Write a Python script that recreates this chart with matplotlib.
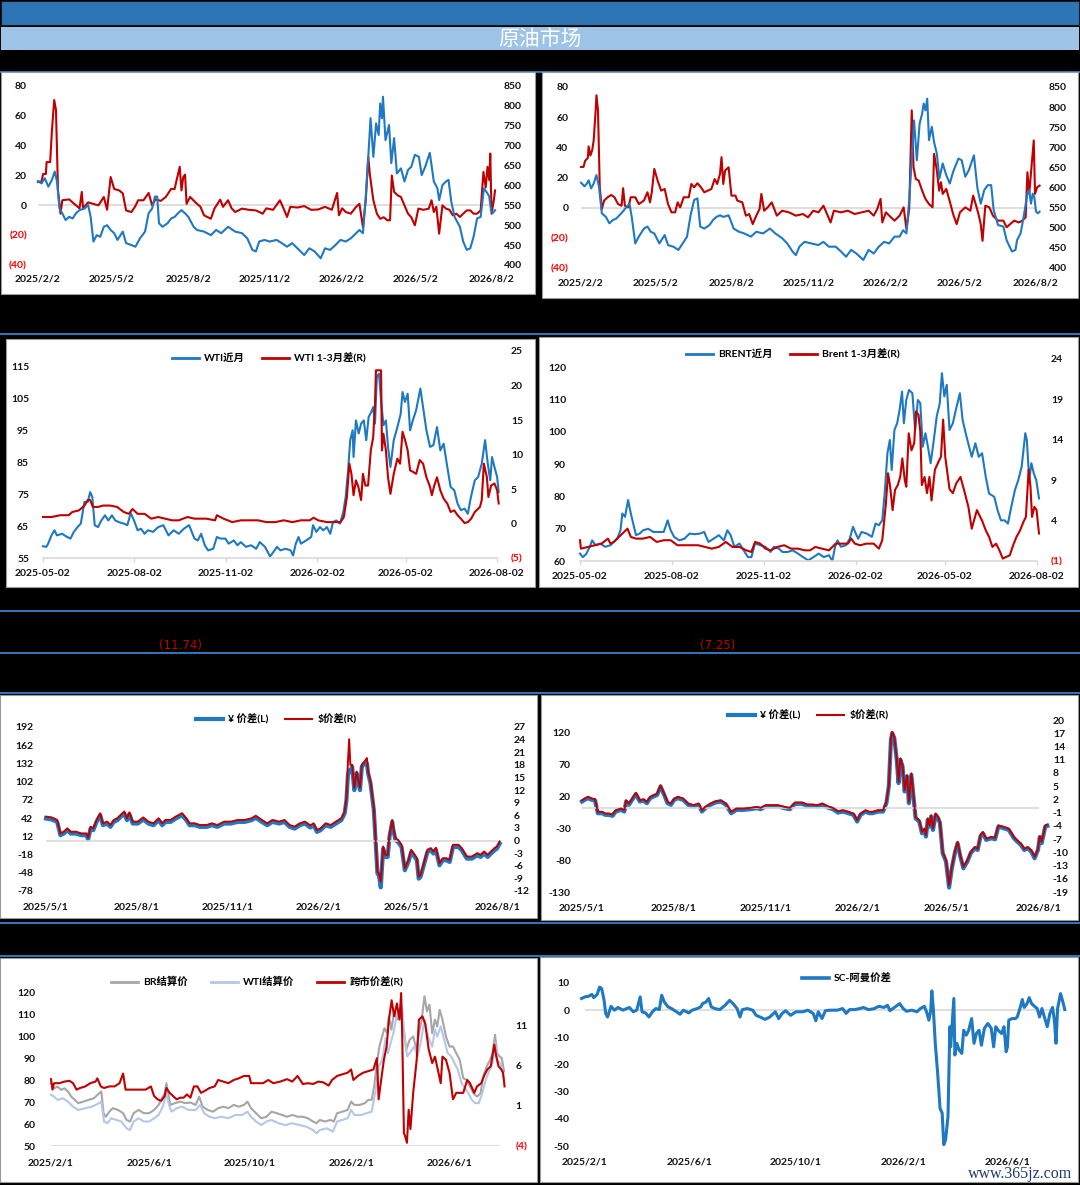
import numpy as np
import pandas as pd
import matplotlib
matplotlib.use('Agg')
import matplotlib.pyplot as plt
from matplotlib.patches import Rectangle
from matplotlib.lines import Line2D

plt.rcParams['font.family'] = ['Lato', 'Noto Sans CJK SC', 'DejaVu Sans']
plt.rcParams['font.weight'] = 'bold'
plt.rcParams['axes.unicode_minus'] = False

# ---------------- data (x = months after each panel's start date) ----------------
title = '原油市场'
notes = ['(11.74)', '(7.25)']

# panel 1 : spread (L, red) and SC price (R, blue)
p1_start = '2025-02-02'
p1_ticks = ['2025-02-02', '2025-05-02', '2025-08-02', '2025-11-02', '2026-02-02', '2026-05-02', '2026-08-02']
p1_red_m = [0.00,0.14,0.20,0.31,0.34,0.48,0.55,0.64,0.71,0.79,0.89,0.96,1.23,1.50,1.64,1.73,1.78,1.98,2.39,2.60,
            2.73,2.87,3.01,3.21,3.35,3.48,3.69,3.83,3.96,4.17,4.37,4.51,4.64,4.85,5.05,5.26,5.40,5.46,5.60,5.67,
            5.74,5.81,5.87,6.01,6.22,6.42,6.56,6.83,6.97,7.20,7.31,7.51,7.65,7.79,8.06,8.33,8.61,8.88,9.02,9.29,
            9.56,9.70,9.84,9.97,10.25,10.52,10.79,11.07,11.34,11.61,11.82,11.89,12.02,12.16,12.36,12.57,12.70,12.84,12.95,13.05,
            13.11,13.25,13.39,13.52,13.66,13.80,13.91,13.98,14.07,14.21,14.34,14.48,14.62,14.75,14.89,15.03,15.23,15.44,15.55,15.64,
            15.74,15.85,15.98,16.12,16.26,16.39,16.53,16.67,16.80,16.94,17.08,17.21,17.35,17.49,17.60,17.69,17.76,17.83,17.87,17.92,
            18.01,18.06]
p1_red_v = [15.7,16,21,21,29,29,50,70.6,64,10,-5.6,3.4,4,0,-2,9,-2,2,0,5.6,
            -3,19,11,10,8,-3.4,-4.5,-1,3.4,3.4,8.3,0,4,3,5.6,11,11,15.7,25.8,10,
            19,20.6,1,5.6,2,-1,-6.7,-9,-2.2,3.8,-1,3.4,-2,-4.5,-2.2,-3,-3.4,-5.6,-2,-3,
            3.4,-2,-7.8,-1,-1.5,-0.5,-3,-2.8,-1,-3,8.3,-6.7,-2,-4.5,-5.6,-1,1,-14.6,3.4,32.5,
            21,3.4,-5.6,-9,-8,-10,-10,20,9,6.7,5.6,0,-5.6,-8,-13.4,-2.2,-3,-2.2,3.4,-4.5,
            -1,-19,0,-2.2,-3,-6.7,-5.6,-7.8,-5.6,-3.4,-3.4,-5.6,-5.6,-3.4,22.4,12,25.8,17,34.7,-5.6,
            3.4,10]
p1_blue_m = [0.00,0.14,0.27,0.41,0.55,0.66,0.75,0.85,0.96,1.09,1.23,1.37,1.50,1.64,1.84,1.98,2.08,2.19,2.32,2.46,
             2.60,2.73,2.87,3.01,3.14,3.35,3.48,3.69,3.85,4.03,4.23,4.37,4.51,4.62,4.71,4.78,4.92,5.12,5.26,5.40,
             5.53,5.67,5.81,5.94,6.15,6.28,6.56,6.83,7.04,7.24,7.51,7.79,8.06,8.27,8.47,8.61,8.74,8.95,9.15,9.43,
             9.63,9.84,10.04,10.25,10.52,10.72,10.93,11.17,11.34,11.54,11.75,11.95,12.16,12.36,12.57,12.70,12.84,12.95,13.05,13.14,
             13.25,13.36,13.46,13.52,13.59,13.63,13.73,13.87,13.96,14.07,14.18,14.34,14.48,14.62,14.75,14.89,15.05,15.16,15.30,15.48,
             15.64,15.78,15.85,15.98,16.12,16.22,16.33,16.46,16.67,16.80,16.94,17.08,17.21,17.35,17.49,17.62,17.76,17.83,17.90,17.96,
             18.06]
p1_blue_v = [611,605,618,597,614,635,610,542,530,513,521,517,530,538,542,551,521,459,475,471,
             496,500,488,480,463,484,455,450,446,467,484,530,542,572,572,505,496,505,517,521,
             530,538,530,521,496,488,484,475,488,480,496,484,480,467,438,434,459,463,459,463,
             455,446,455,442,425,442,434,417,442,438,450,463,459,467,480,488,480,572,672,769,
             672,756,727,806,769,823,714,752,656,719,630,643,610,639,647,677,672,626,647,682,
             610,593,563,601,610,614,559,521,496,459,438,442,471,517,521,593,580,572,538,530,
             538]

# panel 2 : spread (L, red) and price (R, blue)
p2_start = '2025-02-02'
p2_ticks = p1_ticks
p2_red_m = [0,0.10,0.16,0.27,0.30,0.37,0.44,0.50,0.57,0.61,0.67,0.74,0.82,0.91,1.05,1.19,1.32,1.46,1.60,1.66,
            1.73,1.87,1.96,2.14,2.28,2.48,2.62,2.72,2.79,2.89,3.02,3.16,3.30,3.43,3.57,3.71,3.81,3.91,4.05,4.25,
            4.35,4.46,4.59,4.73,4.86,5.00,5.14,5.27,5.37,5.48,5.54,5.61,5.68,5.82,5.93,6.09,6.16,6.36,6.50,6.63,
            6.77,6.91,7.04,7.11,7.22,7.36,7.52,7.72,7.93,8.20,8.47,8.75,8.95,9.16,9.36,9.56,9.70,9.84,9.97,10.25,
            10.52,10.79,11.06,11.34,11.54,11.68,11.81,11.88,12.02,12.22,12.36,12.56,12.72,12.83,12.94,13.04,13.11,13.20,13.31,13.45,
            13.58,13.72,13.86,13.92,14.03,14.12,14.19,14.26,14.40,14.53,14.67,14.81,14.94,15.15,15.35,15.46,15.56,15.67,15.76,15.83,
            15.94,16.10,16.24,16.44,16.65,16.78,16.92,17.08,17.26,17.40,17.53,17.60,17.67,17.77,17.85,17.90,17.98,18.08]
p2_red_v = [27,27,31,33,40.6,34.6,38,44.6,62.3,74.5,64.5,13.5,-1,4.7,6.9,8.4,6.9,2.4,1.3,12.9,
            1.3,0.2,6.9,6.9,2.4,4.7,10.2,3.5,10.2,25.7,18,11.3,12.4,2.4,-3.1,-3.1,3.5,0.2,6.9,6.9,
            15.7,13.5,16.2,13.5,10.2,11.3,12.4,19,15.7,22.4,33.5,15.7,24.6,26.8,8,8,4.7,3.5,-5.3,-4.2,
            -10.9,-5.3,-0.9,9.1,-2,0.2,3.5,-5.3,-2,-3.1,-5.3,-4.2,-6.4,-2,-3.1,1.3,-4.2,-9.8,-2,-3.1,
            -2,-4.2,-3.1,-2,-5.3,-0.9,5.8,-9.8,-3.1,-6.4,-8.6,-5.3,0.2,-14.2,-0.9,64.5,26.8,19,18,11.3,
            5.8,2.4,0.2,35.7,24.6,11.3,16.9,9.1,12.4,4.7,-4.2,-10.9,-3.1,0.2,-2,8,2.4,-4.2,-10.9,-22,
            1.3,0.2,-5.3,-8.6,-8.6,-13,-10.9,-8.6,-9.8,-8.6,-6.4,23.5,9.1,29,44.6,9.1,13.5,14.6]
p2_blue_m = [0,0.14,0.23,0.30,0.40,0.50,0.61,0.71,0.82,0.98,1.12,1.25,1.39,1.59,1.80,1.91,2.00,2.14,2.28,2.48,
             2.62,2.75,2.89,3.09,3.30,3.43,3.64,3.84,4.05,4.18,4.32,4.46,4.59,4.70,4.86,5.07,5.20,5.34,5.48,5.61,
             5.82,6.02,6.23,6.43,6.70,6.91,7.18,7.45,7.66,7.93,8.13,8.34,8.47,8.61,8.81,9.09,9.36,9.56,9.77,10.04,
             10.25,10.45,10.65,10.86,11.13,11.34,11.54,11.74,11.95,12.15,12.36,12.56,12.70,12.83,12.94,13.04,13.13,13.24,13.35,13.45,
             13.51,13.58,13.65,13.72,13.83,13.92,14.03,14.13,14.26,14.40,14.54,14.67,14.88,15.01,15.15,15.29,15.49,15.63,15.76,15.90,
             16.04,16.17,16.27,16.44,16.65,16.78,16.99,17.13,17.19,17.33,17.44,17.60,17.67,17.74,17.81,17.87,17.94,18.01,18.08]
p2_blue_v = [612,603,610,618,598,610,631,602,536,527,511,519,523,536,552,560,527,461,478,498,
             503,490,486,461,482,457,453,445,465,478,531,569,573,503,498,507,519,527,531,527,
             531,498,490,486,478,490,486,498,486,474,461,441,432,453,465,461,457,465,453,453,
             441,428,445,436,420,445,436,453,465,461,478,478,494,486,569,668,767,668,759,784,
             809,792,821,718,751,713,684,622,660,631,610,639,672,668,627,643,680,598,560,594,
             606,606,544,507,503,469,441,445,469,486,523,585,594,560,585,577,540,536,540]

# panel 3 : WTI
p3_start = '2025-05-02'
p3_ticks = ['2025-05-02', '2025-08-02', '2025-11-02', '2026-02-02', '2026-05-02', '2026-08-02']
p3_names = ['WTI近月', 'WTI 1-3月差(R)']
p3_blue_m = [0,0.11,0.17,0.28,0.38,0.46,0.63,0.80,0.91,1.02,1.14,1.25,1.37,1.48,1.56,1.63,1.71,1.82,1.93,2.05,
             2.16,2.28,2.39,2.50,2.67,2.79,2.90,3.01,3.13,3.24,3.36,3.47,3.64,3.81,3.98,4.15,4.32,4.49,4.66,4.83,
             5.01,5.12,5.23,5.35,5.46,5.63,5.75,5.86,6.03,6.14,6.31,6.43,6.54,6.71,6.88,7.05,7.17,7.34,7.51,7.62,
             7.74,7.85,8.02,8.19,8.27,8.36,8.45,8.53,8.70,8.87,8.93,9.04,9.16,9.27,9.39,9.50,9.59,9.70,9.82,9.93,
             10.01,10.09,10.16,10.24,10.27,10.35,10.44,10.52,10.61,10.69,10.77,10.86,10.92,10.98,11.04,11.11,11.18,11.26,11.34,11.41,
             11.49,11.60,11.72,11.83,11.89,11.97,12.06,12.14,12.23,12.34,12.48,12.57,12.68,12.80,12.91,13.03,13.14,13.25,13.37,13.48,
             13.60,13.71,13.82,13.94,14.05,14.14,14.28,14.39,14.51,14.62,14.71,14.79,14.85,14.93,15.02,15.07]
p3_blue_v = [58.7,58.5,59.5,62.1,63.7,62.1,62.6,61.6,61.1,63.2,64.7,65.8,72.6,72.6,75.7,74.2,65.3,64.7,66.8,68.4,
             66.8,68.4,66.8,66.3,65.8,65.3,69.1,66.8,63.7,64.2,62.6,63.7,63.2,64.7,65.3,62.1,63.7,62.6,64.2,65.3,
             61.1,60.5,62.6,59,57.4,57.9,61.6,61.1,61.1,59.5,60.5,59,60,58.5,59,57.9,60,58.5,55.5,56.9,
             58.5,57.4,57.9,57.4,55.8,59.5,61.6,59.5,60.5,61.6,65.3,63.2,64.7,63.7,64.7,62.6,66.3,66.8,65.8,69.4,
             74.2,82.5,92,95.1,86.7,98.2,94.1,97.2,98.2,92,99.3,100.9,102.4,97.2,111.9,112.9,104.5,96.7,98.2,89.9,
             83.6,92,96.1,100.3,107.1,104,106.6,95.1,98.2,101.4,108.2,102.4,95.1,89.9,90.4,96.1,88.8,90.9,83.6,77.3,
             76.3,72.1,70,70.5,68.9,73.6,79.4,80.4,84.6,92,84.6,79.4,86.7,83.6,80.4,75.7]
p3_red_m = [0,0.28,0.57,0.85,0.97,1.19,1.37,1.48,1.56,1.65,1.82,1.99,2.22,2.45,2.67,2.84,2.96,3.13,3.36,3.58,
            3.81,4.04,4.27,4.49,4.78,5.01,5.40,5.69,5.75,5.97,6.26,6.54,6.83,7.11,7.39,7.68,7.96,8.25,8.53,8.82,
            8.95,9.10,9.39,9.67,9.84,9.95,10.05,10.13,10.20,10.27,10.35,10.43,10.52,10.58,10.66,10.75,10.84,10.92,10.98,11.01,
            11.18,11.21,11.26,11.34,11.41,11.49,11.60,11.72,11.81,11.89,11.98,12.06,12.14,12.23,12.34,12.46,12.57,12.68,12.80,12.86,
            12.94,13.03,13.14,13.25,13.37,13.48,13.60,13.71,13.82,13.94,14.05,14.16,14.28,14.45,14.51,14.58,14.68,14.73,14.82,14.93,
            15.02,15.07]
p3_red_v = [0.94,0.94,1.2,1.2,1.67,1.9,2.6,3.4,3.4,2.4,2.4,2.6,2.6,2.4,1.67,1.4,2.1,1.4,1.4,0.7,
            0.94,0.7,0.46,0.46,0.94,0.7,0.7,0.46,1.2,0.7,0.2,0.46,0.46,0.46,0.2,0.2,0.46,0.2,0.46,0.46,
            0.84,0.46,0.2,0.2,0.2,0.94,3.84,8.67,7.2,4.1,6.25,5.3,3.4,7.2,5.5,5.5,10.6,12.5,17.4,22.2,
            22.2,10.6,13,10.6,6.7,4.3,7.2,9.4,8.67,13.3,12,10.6,7.7,7.5,7.2,9.2,8.67,6.7,5.3,4.1,
            5.5,6.7,4.8,3.6,2.9,1.67,1.9,1.2,0.7,0.07,0.2,0.7,1.67,2.4,3.4,8.67,6.7,3.84,5.5,5.8,
            4.8,2.9]

# panel 4 : Brent
p4_start = '2025-05-02'
p4_ticks = p3_ticks
p4_names = ['BRENT近月', 'Brent 1-3月差(R)']
p4_blue_m = [0,0.09,0.20,0.32,0.40,0.51,0.66,0.83,1.00,1.11,1.22,1.33,1.39,1.48,1.58,1.67,1.75,1.84,1.96,2.07,
             2.24,2.41,2.58,2.75,2.88,2.98,3.09,3.26,3.43,3.60,3.77,3.94,4.08,4.22,4.39,4.56,4.73,4.84,4.95,5.07,
             5.24,5.41,5.52,5.63,5.75,5.92,6.09,6.26,6.37,6.54,6.65,6.82,6.99,7.16,7.33,7.50,7.67,7.84,8.01,8.18,
             8.29,8.38,8.46,8.57,8.74,8.86,8.97,9.06,9.14,9.25,9.42,9.59,9.71,9.82,9.93,10.01,10.10,10.18,10.24,10.33,
             10.42,10.50,10.58,10.64,10.72,10.81,10.92,11.01,11.10,11.18,11.26,11.35,11.44,11.52,11.61,11.72,11.82,11.89,11.97,12.05,
             12.14,12.25,12.36,12.48,12.57,12.70,12.87,12.99,13.10,13.21,13.33,13.44,13.61,13.72,13.83,13.95,14.06,14.17,14.29,14.40,
             14.51,14.63,14.68,14.76,14.83,14.91,14.99,15.08]
p4_blue_v = [62.3,61.2,62.1,64.4,66.4,64.9,65.4,64.4,64.9,65.9,66.9,69.5,74.7,73.7,78.9,74.7,71.6,68,68.5,69.5,
             70,69,69,69,72.6,69.5,67.5,66.4,66.9,68.5,68.3,68.5,69,65.9,66.9,68,66.4,69.5,68,64.4,
             65.4,62.8,61.2,61.2,65.4,64.9,64.4,62.8,64.4,63.8,62.8,62.8,63.3,62.3,61.2,60.2,61.2,62.3,61.2,61.8,
             60,64.4,66.4,64.4,64.9,66.9,70.6,68.5,66.9,69,68.5,67.5,71.6,71.1,72.6,80.9,93.4,97.5,88.2,100.6,
             102.7,106.8,112.5,102.7,109.9,113,112,100.6,109.9,108.9,95.4,99.6,94.9,90.3,96.5,104.8,108.9,118.2,111,114.6,
             100.6,102.7,107.3,112,103.7,98.5,92.3,96.5,92.3,93.4,86.1,80.9,79.9,75.7,72.6,72.6,71.6,76.8,82,85.1,
             89.2,99.6,97.5,85.1,90.3,87.1,85.1,79.4]
p4_red_m = [0,0.03,0.26,0.49,0.71,0.92,1.00,1.11,1.28,1.45,1.56,1.67,1.84,2.07,2.30,2.52,2.75,2.98,3.20,3.43,
            3.65,3.88,4.11,4.33,4.56,4.79,5.01,5.24,5.46,5.63,5.75,5.92,6.09,6.26,6.48,6.71,6.93,7.16,7.39,7.56,
            7.73,7.95,8.18,8.40,8.63,8.80,8.91,9.03,9.20,9.42,9.65,9.82,9.93,10.05,10.12,10.19,10.27,10.35,10.44,10.52,
            10.59,10.67,10.72,10.80,10.89,10.98,11.04,11.12,11.18,11.23,11.32,11.40,11.48,11.55,11.66,11.78,11.86,11.93,12.00,12.14,
            12.25,12.36,12.50,12.61,12.76,12.87,13.04,13.21,13.33,13.44,13.55,13.67,13.78,13.89,14.00,14.12,14.23,14.34,14.46,14.57,
            14.65,14.74,14.80,14.85,14.93,15.00,15.08]
p4_red_v = [1.57,0.53,0.74,0.95,1.15,1.77,1.15,1.36,1.98,2.6,3,1.98,1.77,1.77,1.98,1.36,1.57,1.57,0.95,0.95,
            0.95,0.95,0.74,0.53,0.74,1.36,0.74,0.74,0.32,0.12,1.36,1.15,0.53,0.32,0.74,0.95,0.53,0.53,0.32,0.32,
            0.74,0.53,0.32,1.15,1.15,1.15,1.77,1.15,0.95,1.15,1.15,0.53,1.57,6.1,9.85,8.2,5.3,7.8,8.4,9.4,
            11.7,9,8.2,14.8,12.7,13.6,17.5,17.1,15,8.4,9.4,7.4,9.4,6.5,10.3,11.3,11.9,16.5,11.9,7.9,
            7.4,8.6,9.4,7.9,5.7,3,5.3,4,2.8,1.98,0.74,1.15,0.32,-0.7,-0.5,-0.3,0.95,1.98,2.8,3.85,
            4.46,10.3,8.2,4.46,5.7,5.3,2.4]

# panels 5 and 6 : RMB spread (L) vs USD spread (R)
p56_names = ['¥ 价差(L)', '$价差(R)']
p5_start = '2025-05-01'
p5_ticks = ['2025-05-01', '2025-08-01', '2025-11-01', '2026-02-01', '2026-05-01', '2026-08-01']
p5_m = [0,0.19,0.37,0.48,0.59,0.71,0.82,1.00,1.17,1.34,1.40,1.48,1.57,1.68,1.80,1.89,2.03,2.14,2.25,2.37,
        2.48,2.60,2.69,2.77,2.88,3.05,3.23,3.40,3.57,3.74,3.86,3.97,4.14,4.31,4.52,4.66,4.77,4.94,5.11,5.34,
        5.51,5.69,5.92,6.14,6.37,6.60,6.83,6.97,7.17,7.35,7.52,7.75,7.92,8.09,8.26,8.43,8.60,8.78,8.89,9.00,
        9.12,9.29,9.46,9.63,9.81,9.92,9.98,10.03,10.07,10.11,10.17,10.24,10.32,10.38,10.43,10.49,10.58,10.66,10.70,10.78,
        10.89,11.01,11.06,11.12,11.20,11.27,11.35,11.41,11.50,11.54,11.61,11.69,11.81,11.92,12.04,12.13,12.21,12.32,12.38,12.44,
        12.55,12.67,12.78,12.87,12.95,13.07,13.18,13.30,13.41,13.52,13.70,13.81,13.98,14.15,14.32,14.44,14.55,14.67,14.78,14.90,
        14.98,15.07]
p5_rmb = [41.3,39.7,35.8,13.8,16.6,22.1,16.6,16.6,13.8,13.8,6.7,24.8,22.1,35.8,46.8,30.3,33.1,27.6,35.8,38.6,
          44.1,49.6,38.6,48.5,33.1,33.1,39.7,33.1,30.3,38.6,30.3,35.8,35.8,41.3,46.8,38.6,30.3,30.3,27.6,27.6,
          30.3,27.6,33.1,33.1,35.8,35.8,38.6,42.4,35.8,30.3,35.8,33.1,35.8,27.6,24.8,30.3,33.1,26.5,30.3,19.3,
          22.1,30.3,27.6,33.1,38.6,49.6,71.6,113,121,119,126.6,88.1,115.6,99.1,88.1,126.6,132.1,132,115.6,99.1,
          55.1,-49.4,-52.2,-72,-8.2,-21.9,-21.9,11.1,35.8,22.1,5.6,2.8,-5.4,-43.9,-30.2,-13.7,-19.2,-27.4,-57.7,-54.9,
          -35.7,-13.7,-10.9,-16.4,-9.8,-35.7,-27.4,-27.4,-30.2,-5.4,-5.4,-10.9,-24.7,-24.7,-19.2,-21.9,-16.4,-21.9,-16.4,-10.9,
          -8.2,0.0]
p5_usd = [5.7,5.5,4.9,1.7,2.1,2.9,2.1,2.1,1.7,1.7,0.7,3.3,2.9,4.9,6.5,4.1,4.5,3.7,4.9,5.3,
          6.1,6.9,5.3,6.7,4.5,4.5,5.5,4.5,4.1,5.3,4.1,4.9,4.9,5.7,6.5,5.3,4.1,4.1,3.7,3.7,
          4.1,3.7,4.5,4.5,4.9,4.9,5.3,5.9,4.9,4.1,4.9,4.5,4.9,3.7,3.3,4.1,4.5,3.6,4.1,2.5,
          2.9,4.1,3.7,4.5,5.3,6.9,10.1,18.8,24.1,18.0,18.0,12.5,16.4,14.1,12.5,18.0,18.8,19.6,16.4,14.1,
          7.7,-7.4,-7.8,-9.8,-1.4,-3.4,-3.4,1.3,4.9,2.9,0.5,0.2,-1.0,-6.6,-4.6,-2.2,-3.0,-4.2,-8.6,-8.2,
          -5.4,-2.2,-1.8,-2.6,-1.7,-5.4,-4.2,-4.2,-4.6,-1.0,-1.0,-1.8,-3.8,-3.8,-3.0,-3.4,-2.6,-3.4,-2.6,-1.8,
          -1.4,-0.2]

p6_start = '2025-05-01'
p6_ticks = p5_ticks
p6_m = [0,0.09,0.20,0.32,0.43,0.52,0.66,0.77,0.88,1.00,1.11,1.28,1.39,1.45,1.54,1.65,1.77,1.90,2.02,2.13,
        2.24,2.36,2.47,2.58,2.70,2.81,2.92,3.03,3.15,3.32,3.49,3.66,3.83,3.94,4.05,4.22,4.39,4.56,4.73,4.90,
        5.07,5.30,5.53,5.75,5.87,6.04,6.21,6.43,6.66,6.83,7.00,7.23,7.40,7.57,7.74,7.90,8.07,8.24,8.41,8.58,
        8.75,8.92,9.04,9.15,9.32,9.43,9.55,9.72,9.89,10.00,10.08,10.15,10.19,10.26,10.34,10.40,10.46,10.53,10.60,10.68,
        10.74,10.82,10.88,10.96,11.08,11.17,11.25,11.30,11.36,11.42,11.47,11.53,11.62,11.70,11.76,11.85,11.96,12.06,12.15,12.26,
        12.34,12.43,12.53,12.66,12.77,12.91,13.00,13.09,13.17,13.28,13.45,13.57,13.68,13.85,14.02,14.19,14.30,14.42,14.53,14.64,
        14.76,14.87,14.98,15.04,15.10,15.15,15.22,15.29]
p6_rmb = [12.0,14.7,17.3,14.7,13.6,-6.3,-6.3,-8.9,-8.9,-10.5,-3.7,-1.1,-3.7,12.0,6.8,14.7,23.6,12.0,13.6,9.4,
          17.3,20.0,22.5,35.6,22.5,9.4,6.8,14.7,17.3,14.7,6.8,4.2,6.8,-3.7,1.6,6.8,10.5,12.0,6.8,-6.3,
          -1.1,-1.1,0.0,1.6,0.0,4.2,4.2,4.2,1.6,0.0,8.4,8.4,5.2,5.2,4.2,6.8,2.6,0.0,-5.3,-3.7,
          -6.3,-8.9,-19.4,-8.9,-3.7,-6.3,-6.3,-3.7,-3.7,9.4,35.6,109.0,119.5,111.6,77.5,40.9,77.5,67.1,27.8,51.3,
          9.4,54.0,25.1,-14.2,-19.4,-37.8,-32.5,-43.0,-16.8,-27.3,-11.5,-32.5,-8.9,-14.2,-22.0,-69.2,-82.3,-123,-92.8,-66.6,
          -53.5,-74.4,-92.8,-82.3,-69.2,-61.3,-64.0,-43.0,-37.8,-48.2,-45.6,-47.2,-27.3,-29.9,-32.5,-45.6,-50.9,-56.1,-64.0,-61.3,
          -66.6,-77.1,-64.0,-44.0,-53.5,-43.0,-27.3,-26.2]
p6_usd = [1.8,2.2,2.6,2.2,2.05,-0.8,-0.8,-1.2,-1.2,-1.4,-0.45,-0.07,-0.45,1.8,1.07,2.2,3.5,1.8,2.05,1.45,
          2.6,3.0,3.3,5.2,3.3,1.45,1.07,2.2,2.6,2.2,1.07,0.7,1.07,-0.45,0.3,1.07,1.6,1.8,1.07,-0.8,
          -0.07,-0.07,0.08,0.3,0.08,0.7,0.7,0.7,0.3,0.08,1.3,1.3,0.84,0.84,0.7,1.07,0.46,0.08,-0.67,-0.45,
          -0.8,-1.2,-2.7,-1.2,-0.45,-0.8,-0.8,-0.45,-0.45,1.45,5.2,15.8,17.3,16.2,11.3,6.0,11.3,9.8,4.1,7.5,
          1.45,7.9,3.7,-2.0,-2.7,-5.4,-4.6,-6.1,-2.3,-3.9,-1.6,-4.6,-1.2,-2.0,-3.1,-9.9,-11.8,-17.5,-13.3,-9.5,
          -7.6,-10.7,-13.3,-11.8,-9.9,-8.8,-9.2,-6.1,-5.4,-6.9,-6.5,-6.7,-3.9,-4.2,-4.6,-6.5,-7.3,-8.0,-9.2,-8.8,
          -9.5,-11.0,-9.2,-6.3,-7.6,-6.1,-3.9,-3.7]

# panel 7 : settlement prices and cross-market spread
p7_start = '2025-02-01'
p7_ticks = ['2025-02-01', '2025-06-01', '2025-10-01', '2026-02-01', '2026-06-01']
p7_names = ['BR结算价', 'WTI结算价', '跨市价差(R)']
p7_br_m = [0,0.12,0.26,0.40,0.54,0.68,0.81,0.95,1.09,1.30,1.50,1.71,1.92,2.01,2.10,2.19,2.33,2.47,2.68,2.88,
           3.02,3.16,3.30,3.50,3.71,3.92,4.12,4.30,4.40,4.54,4.61,4.68,4.77,4.95,5.16,5.37,5.57,5.78,5.92,6.06,
           6.26,6.47,6.68,6.88,7.09,7.30,7.50,7.71,7.85,7.99,8.19,8.40,8.61,8.81,9.02,9.23,9.43,9.64,9.85,10.06,
           10.26,10.47,10.61,10.74,10.95,11.16,11.30,11.43,11.64,11.85,11.99,12.12,12.33,12.54,12.68,12.81,12.91,13.02,13.12,13.23,
           13.32,13.43,13.50,13.60,13.71,13.82,13.92,13.99,14.10,14.19,14.33,14.47,14.61,14.70,14.81,14.92,15.02,15.12,15.23,15.34,
           15.43,15.53,15.64,15.78,15.92,16.06,16.19,16.33,16.47,16.61,16.74,16.88,17.02,17.16,17.27,17.41,17.54,17.64,17.74,17.82,
           17.92,18.01,18.10]
p7_br_v = [78.7,76.4,77.2,75.7,76.4,74.9,72.6,71.1,69.6,70.3,71.1,71.8,74.1,74.9,65,63.4,65.7,67.3,66.5,65,
           61.9,61.2,65,66.5,65,65,66.5,68.8,71.1,74.1,78.7,74.1,68.8,69.6,70.3,69.6,69.9,68.8,72.6,68,
           66.5,65.7,67.3,68,67.3,68.8,68,68.8,70.3,67.3,65,62.7,63.4,65.7,65,64.2,63.4,64.2,63.4,63.4,
           62.7,61.2,60.4,61.9,61.2,61.9,61.2,65,65.7,66.5,70.3,68.8,68.8,69.6,71.1,71.1,77.2,87.9,95.5,100.1,
           103.9,101.6,109.3,103.2,111.6,107.8,110.8,113.9,103.2,94,98.6,100.1,94,101.6,107.8,118.5,111.6,114.6,101.6,107.8,
           104.7,112.3,107.8,100.1,95.5,95.5,92.5,89.4,81,80.3,77.2,74.1,72.6,74.1,81.8,86.4,89.4,92.5,100.9,92.5,
           91,90.2,84.1]
p7_wti_m = [0,0.12,0.26,0.47,0.68,0.88,1.09,1.37,1.64,1.92,2.01,2.12,2.26,2.40,2.61,2.81,3.02,3.16,3.30,3.50,
            3.71,3.92,4.12,4.30,4.47,4.61,4.72,4.81,5.02,5.23,5.50,5.78,5.96,6.12,6.33,6.54,6.81,7.09,7.37,7.64,
            7.85,7.99,8.19,8.40,8.61,8.81,9.09,9.37,9.64,9.92,10.19,10.47,10.61,10.74,11.02,11.26,11.43,11.64,11.85,11.99,
            12.12,12.40,12.61,12.81,12.95,13.09,13.23,13.37,13.46,13.57,13.68,13.78,13.85,13.96,14.03,14.12,14.23,14.37,14.51,14.65,
            14.79,14.92,15.06,15.23,15.34,15.43,15.57,15.71,15.85,15.99,16.12,16.26,16.40,16.54,16.68,16.81,16.95,17.09,17.23,17.37,
            17.50,17.64,17.74,17.85,17.96,18.10]
p7_wti_v = [73.4,72.6,71.1,71.8,70.3,68,66.5,67.3,68,69.6,70.3,61.2,60.4,62.7,61.9,61.2,58.1,57.3,61.2,62.7,
            61.2,61.2,62.7,64.2,68,74.1,68.8,65.7,67.3,68,66.5,66.5,68.8,65,63.4,62.7,63.4,62.7,64.2,64.2,
            65.7,63.4,61.2,59.6,61.2,61.9,60.4,59.6,60.4,59.6,58.9,57.3,55.8,57.3,58.1,56.6,61.2,61.9,62.7,66.5,
            64.2,64.2,65,65.7,74.1,86.4,89.4,99.4,92.5,97.1,101.6,107.8,110.8,112.3,113.1,100.1,91,93.2,95.5,91,
            98.6,107.8,100.1,95.5,103.2,100.1,104.7,98.6,92.5,91,87.9,84.8,78.7,76.4,74.1,71.1,69.6,69.6,74.1,80.3,
            84.1,87.9,97.1,88.7,87.9,80.3]
p7_spr_m = [0,0.06,0.12,0.33,0.54,0.74,0.88,1.02,1.16,1.37,1.57,1.78,1.85,1.99,2.12,2.33,2.54,2.74,2.88,2.98,
            3.23,3.50,3.78,3.99,4.12,4.26,4.40,4.54,4.61,4.74,4.88,5.02,5.16,5.30,5.43,5.57,5.71,5.85,5.99,6.12,
            6.33,6.54,6.68,6.88,7.09,7.30,7.50,7.71,7.92,7.99,8.19,8.47,8.68,8.88,9.16,9.43,9.64,9.85,10.06,10.26,
            10.47,10.68,10.88,11.09,11.23,11.43,11.64,11.85,11.99,12.08,12.26,12.47,12.68,12.88,13.02,13.09,13.19,13.30,13.41,13.50,
            13.61,13.71,13.82,13.92,13.99,14.03,14.10,14.15,14.22,14.29,14.36,14.47,14.61,14.70,14.84,14.95,15.09,15.23,15.34,15.48,
            15.57,15.64,15.78,15.92,16.06,16.19,16.33,16.47,16.63,16.74,16.91,17.02,17.19,17.30,17.43,17.57,17.71,17.79,17.88,17.99,
            18.06,18.12]
p7_spr_v = [4.3,3.0,3.8,3.8,4.0,4.1,3.8,3.0,3.2,3.4,3.8,4.0,4.4,3.4,3.2,3.4,3.4,3.8,5.0,3.0,
            3.0,3.0,3.0,3.4,2.2,1.8,1.6,2.2,3.2,2.6,2.2,1.8,2.0,2.0,2.4,2.0,3.4,3.4,2.6,2.8,
            3.2,3.4,4.2,4.0,3.8,4.2,4.4,4.7,4.7,3.8,3.8,3.8,4.2,3.8,4.0,4.3,4.0,4.7,3.7,3.8,
            3.7,4.0,3.9,3.5,4.2,4.7,4.9,5.1,5.5,4.2,4.7,5.1,5.3,5.5,6.9,1.8,4.2,6.7,8.4,11.7,
            14.1,12.1,13.7,11.7,15.0,10.0,-2.4,-2.8,-3.6,0.5,-1.9,2.6,6.7,11.7,12.1,11.2,8.0,6.3,7.1,5.1,
            3.8,7.1,6.7,5.1,1.8,2.6,2.6,2.6,4.2,3.8,2.6,3.4,3.8,4.7,5.5,5.9,8.6,7.1,5.9,5.5,
            5.1,3.4]

# panel 8 : SC - Oman spread
p8_start = '2025-02-01'
p8_ticks = p7_ticks
p8_name = 'SC-阿曼价差'
p8_m = [-0.13,0,0.13,0.26,0.33,0.46,0.55,0.63,0.72,0.78,0.85,0.98,1.11,1.24,1.43,1.67,1.82,1.95,2.08,2.15,
        2.28,2.41,2.54,2.67,2.80,2.89,2.99,3.13,3.26,3.45,3.58,3.71,3.91,4.04,4.23,4.36,4.43,4.56,4.66,4.76,
        4.89,5.08,5.28,5.45,5.58,5.73,5.84,5.93,6.12,6.32,6.45,6.64,6.78,6.97,7.17,7.30,7.43,7.56,7.75,7.95,
        8.21,8.40,8.60,8.70,8.79,8.93,9.06,9.25,9.51,9.71,9.84,9.97,10.16,10.36,10.49,10.68,10.88,11.07,11.27,11.40,
        11.49,11.66,11.86,11.99,12.12,12.31,12.51,12.64,12.79,12.87,12.96,13.03,13.07,13.13,13.20,13.29,13.38,13.46,13.52,13.59,
        13.68,13.75,13.78,13.84,13.90,13.94,14.01,14.10,14.20,14.27,14.37,14.46,14.57,14.66,14.75,14.85,14.94,15.05,15.18,15.31,
        15.40,15.48,15.57,15.70,15.79,15.87,15.92,15.97,16.09,16.22,16.29,16.39,16.48,16.55,16.65,16.74,16.83,16.94,17.04,17.13,
        17.22,17.33,17.42,17.52,17.62,17.69,17.75,17.81,17.92,18.01,18.08]
p8_v = [4.3,4.9,5.1,5.8,4.6,5.8,8.5,7.9,3.6,-1.2,-2.5,1.4,0,1.0,0,1.0,-0.6,0,4.9,-0.6,
        -1,-2.5,-0.6,0.6,0.2,5.5,3.0,1.2,0.6,-0.6,-1.5,0,-1,0,0.6,1.2,2.4,3.0,4.3,1.2,
        0.6,0.2,1.8,3.6,2.4,0.6,-2.5,0.2,0.6,0,-1.9,-2.7,-3.4,-2.5,-0.6,-3.1,-1.2,-0.2,-1.9,-0.6,
        -0.6,0,-1.2,-3.9,-0.6,-3.1,-0.2,0,0,0.6,-1.2,0.2,0.2,0.6,1.0,0.2,0.5,1.4,1.0,1.8,
        -0.2,1.0,2.4,0.6,-0.4,0,-0.6,0.6,1.4,-0.6,-3.7,0,7.1,0,-12.2,-23.2,-36.1,-37.9,-49.5,-47.7,
        -39.1,-6.1,-13.5,-4.9,4.3,-16.5,-12.2,-14.7,-15.9,-7.4,-9.2,-7.4,-3.1,-12.2,-8.6,-7.4,-12.9,-6.7,-4.9,-6.7,
        -13.5,-6.1,-7.4,-8.6,-6.1,-15.3,-13.5,-3.7,-3.1,-3.1,-2.5,0.6,3.9,1.0,2.2,4.6,2.4,1.4,0.6,-2.5,
        0.6,-3.1,-6.1,-1.2,1.0,-3.7,-12.2,0.6,6.1,3.0,0.2]

# ---------------- styling / layout ----------------
W, H = 1080, 1185
BLUE = '#1E78C2'
RED = '#C00000'
NEG = '#FF0000'
GRID = '#D9D9D9'
TXT = '#111111'
FS = 7.5
LW = 1.5

fig = plt.figure(figsize=(W / 100, H / 100), dpi=100)
fig.patch.set_facecolor('black')


def rect(x0, y0, x1, y1, color, edge=None, lw=0.0):
    fig.add_artist(Rectangle((x0 / W, 1 - y1 / H), (x1 - x0) / W, (y1 - y0) / H,
                             transform=fig.transFigure, facecolor=color,
                             edgecolor=edge or color, linewidth=lw, zorder=-5))


def when(start, months):
    return pd.Timestamp(start) + pd.to_timedelta(np.asarray(months) * 30.4375, unit='D')


def style(ax):
    ax.patch.set_visible(False)
    for s in ax.spines.values():
        s.set_visible(False)
    ax.tick_params(length=0, labelsize=FS, colors=TXT)


def make_ax(x0, x1, ytop, ybot):
    ax = fig.add_axes([x0 / W, 1 - ybot / H, (x1 - x0) / W, (ybot - ytop) / H])
    style(ax)
    return ax


def twin(ax):
    t = ax.twinx()
    style(t)
    return t


def set_y(ax, lim, ticks, pad, paren=False):
    ax.set_ylim(*lim)
    labs = ['(%g)' % -t if (paren and t < 0) else '%g' % t for t in ticks]
    ax.set_yticks(ticks, labs)
    ax.tick_params(axis='y', pad=pad)
    if paren:
        for t, lab in zip(ticks, ax.get_yticklabels()):
            if t < 0:
                lab.set_color(NEG)


def set_x(ax, start, end, ticks, pad, dash=False, tick_marks=False):
    ax.set_xlim(pd.Timestamp(start), pd.Timestamp(end))
    tk = pd.to_datetime(ticks)
    if dash:
        labs = [d.strftime('%Y-%m-%d') for d in tk]
    else:
        labs = ['%d/%d/%d' % (d.year, d.month, d.day) for d in tk]
    ax.set_xticks(tk, labs)
    ax.tick_params(axis='x', pad=pad)
    if tick_marks:
        ax.spines['bottom'].set_visible(True)
        ax.spines['bottom'].set_color(GRID)
        ax.spines['bottom'].set_linewidth(1.2)
        ax.tick_params(axis='x', length=3, width=1, color=GRID, direction='out')


def legend(items, cx, cy, hl=2.6, cs=1.6):
    handles = [Line2D([], [], color=c, lw=lw) for _, c, lw in items]
    fig.legend(handles, [n for n, _, _ in items], loc='center',
               bbox_to_anchor=(cx / W, 1 - cy / H), ncol=len(items), frameon=False,
               fontsize=FS, handlelength=hl, handletextpad=0.5, columnspacing=cs,
               borderpad=0, borderaxespad=0)


# header
rect(1, 1, 1079, 25, '#2E75B6', edge='#1a1a1a', lw=0.8)
rect(1, 27, 1079, 50, '#9DC3E6')
fig.text(540 / W, 1 - 39 / H, title, color='white', fontsize=15, ha='center', va='center',
         family=['Noto Sans CJK SC'], weight='normal')

# separators
for yy in [70.5, 332.5, 609.5, 651.5, 691.5, 921.5, 954.5]:
    rect(0, yy, W, yy + 2.5, '#2E75B6')

# white panels
for (a, b, c, d) in [(1, 72, 535, 294), (542, 72, 1078, 298), (6, 339, 535, 587), (539, 337, 1078, 587),
                     (0, 695, 537, 918), (541, 695, 1078, 920), (0, 958, 537, 1182), (540, 957, 1078, 1182)]:
    rect(a, b, c, d, 'white', edge='#9A9A9A', lw=0.8)

for txt, xx in zip(notes, [180, 718]):
    fig.text(xx / W, 1 - 645 / H, txt, color=RED, fontsize=8.5, ha='center', va='center',
             family=['Liberation Sans Narrow', 'DejaVu Sans'], weight='normal')

# ---- panel 1
ax = make_ax(38, 492, 86, 265)
set_x(ax, p1_start, '2026-08-02', p1_ticks, 7)
set_y(ax, (-40, 80), list(range(-40, 81, 20)), 8, paren=True)
ax.axhline(0, color=GRID, lw=1.2, zorder=0)
ax.plot(when(p1_start, p1_red_m), p1_red_v, color=RED, lw=LW, clip_on=False)
axr = twin(ax)
set_y(axr, (400, 850), list(range(400, 851, 50)), 8.5)
axr.plot(when(p1_start, p1_blue_m), p1_blue_v, color=BLUE, lw=LW, clip_on=False)

# ---- panel 2
ax = make_ax(581, 1036, 87, 268)
set_x(ax, p2_start, '2026-08-02', p2_ticks, 7.5)
set_y(ax, (-40, 80), list(range(-40, 81, 20)), 9, paren=True)
ax.axhline(0, color=GRID, lw=1.2, zorder=0)
ax.plot(when(p2_start, p2_red_m), p2_red_v, color=RED, lw=LW, clip_on=False)
axr = twin(ax)
set_y(axr, (400, 850), list(range(400, 851, 50)), 9)
axr.plot(when(p2_start, p2_blue_m), p2_blue_v, color=BLUE, lw=LW, clip_on=False)

# ---- panel 3
ax = make_ax(43, 497, 351, 558)
set_x(ax, p3_start, '2026-08-02', p3_ticks, 5, dash=True, tick_marks=True)
set_y(ax, (55, 120), list(range(55, 116, 10)), 10)
ax.plot(when(p3_start, p3_blue_m), p3_blue_v, color=BLUE, lw=LW, clip_on=False)
axr = twin(ax)
set_y(axr, (-5, 25), list(range(-5, 26, 5)), 10, paren=True)
axr.plot(when(p3_start, p3_red_m), p3_red_v, color=RED, lw=LW, clip_on=False)
legend([(p3_names[0], BLUE, 2), (p3_names[1], RED, 2)], 269, 358)

# ---- panel 4
ax = make_ax(580, 1037, 359, 561)
set_x(ax, p4_start, '2026-08-02', p4_ticks, 5, dash=True, tick_marks=True)
set_y(ax, (60, 122.6), list(range(60, 121, 10)), 10)
ax.plot(when(p4_start, p4_blue_m), p4_blue_v, color=BLUE, lw=LW, clip_on=False)
axr = twin(ax)
set_y(axr, (-1, 24), list(range(-1, 25, 5)), 10, paren=True)
axr.plot(when(p4_start, p4_red_m), p4_red_v, color=RED, lw=LW, clip_on=False)
legend([(p4_names[0], BLUE, 2), (p4_names[1], RED, 2)], 793, 354)

# ---- panel 5
ax = make_ax(46, 498, 727, 891)
set_x(ax, p5_start, '2026-08-01', p5_ticks, 8)
set_y(ax, (-78, 192), list(range(-78, 193, 30)), 9)
ax.plot(when(p5_start, p5_m), p5_rmb, color=BLUE, lw=3.0, clip_on=False)
axr = twin(ax)
set_y(axr, (-12, 27), list(range(-12, 28, 3)), 11)
axr.axhline(0, color=GRID, lw=1.2, zorder=0)
axr.plot(when(p5_start, p5_m), p5_usd, color=RED, lw=1.4, clip_on=False)
legend([(p56_names[0], BLUE, 3), (p56_names[1], RED, 1.5)], 276, 719)

# ---- panel 6
ax = make_ax(582, 1039, 720, 892)
set_x(ax, p6_start, '2026-08-01', p6_ticks, 8)
set_y(ax, (-130, 140), list(range(-130, 121, 50)), 8)
ax.plot(when(p6_start, p6_m), p6_rmb, color=BLUE, lw=3.0, clip_on=False)
axr = twin(ax)
set_y(axr, (-19, 20), list(range(-19, 21, 3)), 10)
axr.axhline(0, color=GRID, lw=1.2, zorder=0)
axr.plot(when(p6_start, p6_m), p6_usd, color=RED, lw=1.4, clip_on=False)
legend([(p56_names[0], BLUE, 3), (p56_names[1], RED, 1.5)], 808, 715)

# ---- panel 7
ax = make_ax(51, 500, 993, 1146)
set_x(ax, p7_start, '2026-08-01', p7_ticks, 9)
set_y(ax, (50, 120), list(range(50, 121, 10)), 11)
ax.axhline(50, color=GRID, lw=1.2, zorder=0)
ax.plot(when(p7_start, p7_br_m), p7_br_v, color='#A6A6A6', lw=LW, clip_on=False)
ax.plot(when(p7_start, p7_wti_m), p7_wti_v, color='#B4C7E7', lw=LW, clip_on=False)
axr = twin(ax)
set_y(axr, (-4, 15), [-4, 1, 6, 11], 11, paren=True)
axr.plot(when(p7_start, p7_spr_m), p7_spr_v, color=RED, lw=LW, clip_on=False)
legend([(p7_names[0], '#A6A6A6', 2), (p7_names[1], '#B4C7E7', 2), (p7_names[2], RED, 2)], 257, 982, cs=2.2)

# ---- panel 8
ax = make_ax(585, 1061, 983, 1146)
set_x(ax, p8_start, '2026-08-01', p8_ticks, 8)
set_y(ax, (-50, 10), list(range(-50, 11, 10)), 11)
ax.axhline(0, color=GRID, lw=1.2, zorder=0)
ax.plot(when(p8_start, p8_m), p8_v, color=BLUE, lw=2.2, clip_on=False)
legend([(p8_name, BLUE, 2.6)], 847, 979)

fig.text(1020 / W, 1 - 1174 / H, 'www.365jz.com', color='#1F3A6E', fontsize=11.5, ha='center', va='center',
         family=['Liberation Serif', 'DejaVu Serif'], weight='normal')

fig.savefig('out.png', dpi=100, facecolor=fig.get_facecolor())
